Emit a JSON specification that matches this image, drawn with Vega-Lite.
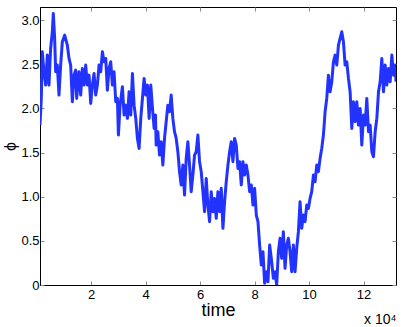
{
  "$schema": "https://vega.github.io/schema/vega-lite/v6.json",
  "width": 356,
  "height": 278,
  "autosize": {"type": "none"},
  "padding": {"left": 40, "top": 7, "right": 15, "bottom": 42},
  "background": "white",
  "config": {
    "view": {"stroke": "black", "strokeWidth": 1},
    "font": "Liberation Sans",
    "axis": {"grid": false, "domainColor": "black", "tickColor": "#666666", "labelColor": "black", "titleColor": "black", "labelFont": "Liberation Sans", "titleFont": "Liberation Sans", "labelFontSize": 13, "titleFontWeight": "normal"}
  },
  "title": {"text": "x 10⁴", "orient": "bottom", "anchor": "end", "fontSize": 14, "fontWeight": "normal", "font": "Liberation Sans", "color": "black", "offset": -6},
  "resolve": {"axis": {"x": "independent", "y": "independent"}},
  "data": {"values": [
    {"t":1250,"phi":1.812},{"t":1727,"phi":2.114},{"t":2095,"phi":2.642},{"t":2707,"phi":2.416},{"t":3320,"phi":2.265},{"t":3932,"phi":2.605},{"t":4545,"phi":2.265},{"t":5157,"phi":2.68},{"t":5770,"phi":2.869},{"t":6137,"phi":3.077},{"t":6627,"phi":2.794},{"t":6995,"phi":2.416},{"t":7607,"phi":2.492},{"t":8220,"phi":2.152},{"t":8832,"phi":2.492},{"t":9445,"phi":2.756},{"t":10302,"phi":2.831},{"t":11282,"phi":2.718},{"t":11895,"phi":2.567},{"t":12507,"phi":2.492},{"t":13120,"phi":2.076},{"t":13732,"phi":2.378},{"t":14345,"phi":2.435},{"t":14712,"phi":2.114},{"t":15570,"phi":2.416},{"t":16182,"phi":2.152},{"t":16795,"phi":2.454},{"t":17407,"phi":2.265},{"t":18020,"phi":2.492},{"t":18632,"phi":2.265},{"t":19245,"phi":2.378},{"t":19857,"phi":2.057},{"t":20470,"phi":2.265},{"t":21082,"phi":2.397},{"t":21695,"phi":2.152},{"t":22307,"phi":2.265},{"t":22920,"phi":2.492},{"t":23532,"phi":2.416},{"t":24145,"phi":2.642},{"t":24757,"phi":2.529},{"t":25370,"phi":2.567},{"t":25982,"phi":2.208},{"t":26595,"phi":2.454},{"t":27207,"phi":2.529},{"t":27820,"phi":2.265},{"t":28432,"phi":2.416},{"t":29045,"phi":2.076},{"t":29657,"phi":2.114},{"t":30025,"phi":1.699},{"t":30637,"phi":2.038},{"t":31495,"phi":2.246},{"t":32107,"phi":1.925},{"t":32720,"phi":2.038},{"t":33332,"phi":1.888},{"t":33945,"phi":2.189},{"t":34557,"phi":1.925},{"t":35170,"phi":2.397},{"t":35782,"phi":2.038},{"t":36395,"phi":1.888},{"t":37007,"phi":1.661},{"t":37620,"phi":1.548},{"t":38232,"phi":1.888},{"t":38845,"phi":2.114},{"t":39457,"phi":2.34},{"t":40070,"phi":2.152},{"t":40682,"phi":2.265},{"t":41295,"phi":1.888},{"t":41907,"phi":2.265},{"t":42520,"phi":2.001},{"t":43132,"phi":1.774},{"t":43635,"phi":1.925},{"t":43880,"phi":1.585},{"t":44492,"phi":1.737},{"t":45105,"phi":1.472},{"t":45717,"phi":1.623},{"t":46330,"phi":1.359},{"t":46942,"phi":1.661},{"t":47555,"phi":1.85},{"t":48167,"phi":2.038},{"t":48780,"phi":1.963},{"t":49392,"phi":2.152},{"t":50005,"phi":1.888},{"t":50617,"phi":1.737},{"t":51230,"phi":1.661},{"t":51842,"phi":1.51},{"t":52455,"phi":1.284},{"t":53067,"phi":1.133},{"t":53680,"phi":1.359},{"t":54292,"phi":1.019},{"t":54905,"phi":1.435},{"t":55517,"phi":1.623},{"t":56130,"phi":1.359},{"t":56742,"phi":1.057},{"t":57355,"phi":1.246},{"t":57967,"phi":1.472},{"t":58580,"phi":1.51},{"t":59192,"phi":1.699},{"t":59805,"phi":1.397},{"t":60417,"phi":1.284},{"t":61030,"phi":1.057},{"t":61642,"phi":0.83},{"t":62255,"phi":1.208},{"t":62867,"phi":0.906},{"t":63480,"phi":0.717},{"t":64092,"phi":1.057},{"t":64705,"phi":0.83},{"t":65317,"phi":0.981},{"t":65930,"phi":0.755},{"t":66542,"phi":1.057},{"t":67155,"phi":0.83},{"t":67767,"phi":1.095},{"t":68380,"phi":0.642},{"t":68992,"phi":0.944},{"t":69605,"phi":1.17},{"t":70217,"phi":1.359},{"t":70830,"phi":1.51},{"t":71442,"phi":1.623},{"t":72055,"phi":1.397},{"t":72667,"phi":1.661},{"t":73280,"phi":1.585},{"t":73892,"phi":1.321},{"t":74505,"phi":1.397},{"t":75117,"phi":1.133},{"t":75730,"phi":1.397},{"t":76342,"phi":1.246},{"t":76955,"phi":1.359},{"t":77567,"phi":1.246},{"t":78180,"phi":1.057},{"t":78792,"phi":1.133},{"t":79405,"phi":0.906},{"t":80017,"phi":1.095},{"t":80630,"phi":0.793},{"t":81242,"phi":0.717},{"t":81855,"phi":0.453},{"t":82467,"phi":0.227},{"t":83080,"phi":0.378},{"t":83692,"phi":0.019},{"t":84305,"phi":0.151},{"t":84917,"phi":0.038},{"t":85530,"phi":0.453},{"t":86142,"phi":0.302},{"t":86888,"phi":0.076},{"t":87501,"phi":0.151},{"t":88113,"phi":0.0},{"t":88726,"phi":0.378},{"t":89338,"phi":0.529},{"t":89951,"phi":0.302},{"t":90563,"phi":0.604},{"t":91176,"phi":0.189},{"t":91788,"phi":0.453},{"t":92401,"phi":0.529},{"t":93013,"phi":0.378},{"t":93626,"phi":0.151},{"t":94238,"phi":0.453},{"t":94851,"phi":0.151},{"t":95463,"phi":0.415},{"t":96076,"phi":0.604},{"t":96688,"phi":0.944},{"t":97301,"phi":0.642},{"t":97913,"phi":0.793},{"t":98526,"phi":0.717},{"t":99138,"phi":0.906},{"t":99751,"phi":0.868},{"t":100363,"phi":0.981},{"t":100976,"phi":1.057},{"t":101588,"phi":1.246},{"t":102201,"phi":1.17},{"t":102813,"phi":1.359},{"t":103426,"phi":1.284},{"t":104038,"phi":1.435},{"t":104651,"phi":1.548},{"t":105263,"phi":1.699},{"t":105876,"phi":1.963},{"t":106488,"phi":2.114},{"t":107101,"phi":2.378},{"t":107713,"phi":2.189},{"t":108326,"phi":2.303},{"t":108938,"phi":2.529},{"t":109551,"phi":2.605},{"t":110163,"phi":2.492},{"t":110776,"phi":2.718},{"t":111388,"phi":2.794},{"t":112001,"phi":2.869},{"t":112613,"phi":2.756},{"t":113226,"phi":2.492},{"t":113838,"phi":2.529},{"t":114451,"phi":2.34},{"t":115063,"phi":2.189},{"t":115676,"phi":1.774},{"t":116288,"phi":2.076},{"t":116901,"phi":1.85},{"t":117513,"phi":2.076},{"t":118126,"phi":1.812},{"t":118738,"phi":2.001},{"t":119351,"phi":1.585},{"t":119963,"phi":1.925},{"t":120576,"phi":1.812},{"t":121188,"phi":2.114},{"t":121801,"phi":1.737},{"t":122413,"phi":1.812},{"t":123026,"phi":1.51},{"t":123638,"phi":1.453},{"t":124251,"phi":1.737},{"t":124863,"phi":1.888},{"t":125476,"phi":2.189},{"t":126088,"phi":2.303},{"t":126701,"phi":2.567},{"t":127313,"phi":2.189},{"t":127926,"phi":2.492},{"t":128538,"phi":2.265},{"t":129151,"phi":2.454},{"t":129763,"phi":2.303},{"t":130376,"phi":2.605},{"t":130988,"phi":2.378},{"t":131601,"phi":2.492},{"t":131900,"phi":2.303}
  ]},
  "layer": [
    {
      "mark": {"type": "line", "color": "#2233ff", "strokeWidth": 3, "clip": true, "strokeJoin": "round"},
      "encoding": {
        "x": {"field": "t", "type": "quantitative", "scale": {"domain": [1250, 131900], "nice": false, "zero": false},
          "axis": {"title": "time", "titleFontSize": 18, "titlePadding": 0, "values": [20000, 40000, 60000, 80000, 100000, 120000], "labelExpr": "datum.value / 10000", "tickSize": -4, "labelPadding": 7, "tickColor": "#888888"}},
        "y": {"field": "phi", "type": "quantitative", "scale": {"domain": [0, 3.15], "nice": false},
          "axis": {"title": "ϕ", "titleFontSize": 16, "titlePadding": 2, "values": [0, 0.5, 1, 1.5, 2, 2.5, 3], "labelExpr": "datum.value == 0 ? '0' : format(datum.value, '.1f')", "tickSize": -4, "labelPadding": 5, "tickColor": "#888888"}}
      }
    },
    {
      "mark": {"type": "line", "color": "#2233ff", "strokeWidth": 3, "clip": true, "opacity": 0},
      "encoding": {
        "x": {"field": "t", "type": "quantitative", "axis": {"orient": "top", "title": null, "labels": false, "domain": false, "values": [20000, 40000, 60000, 80000, 100000, 120000], "tickSize": -4, "tickColor": "#888888"}},
        "y": {"field": "phi", "type": "quantitative", "axis": {"orient": "right", "title": null, "labels": false, "domain": false, "values": [0, 0.5, 1, 1.5, 2, 2.5, 3], "tickSize": -4, "tickColor": "#888888"}}
      }
    }
  ]
}
